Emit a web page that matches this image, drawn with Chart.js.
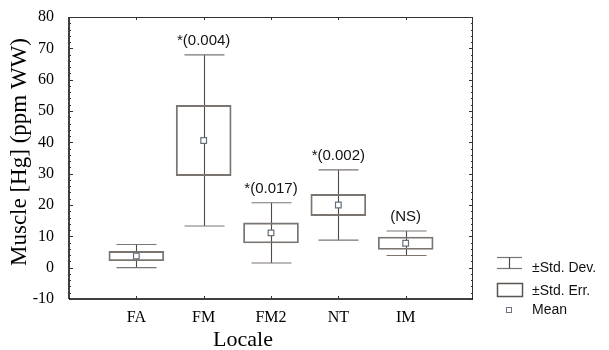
<!DOCTYPE html>
<html>
<head>
<meta charset="utf-8">
<script src="https://cdn.jsdelivr.net/npm/chart.js@4/dist/chart.umd.min.js"></script>
<style>
  html, body { margin: 0; padding: 0; background: #fff; }
</style>
</head>
<body>
<canvas id="chart" width="609" height="350"></canvas>
<script>
// data
const categories = ['FA', 'FM', 'FM2', 'NT', 'IM'];
const means = [3.7, 40.6, 11.1, 20.0, 7.8];
const stdErr = [1.5, 11.2, 3.2, 3.4, 2.0];
const stdDev = [3.7, 27.3, 9.6, 11.2, 3.9];
const notes = ['', '*(0.004)', '*(0.017)', '*(0.002)', '(NS)'];
const yTicks = [-10, 0, 10, 20, 30, 40, 50, 60, 70, 80];
const legendItems = ['±Std. Dev.', '±Std. Err.', 'Mean'];

const SERIF = '"Liberation Serif", "DejaVu Serif", serif';
const SANS = '"Liberation Sans", Arial, sans-serif';

function line(ctx, x1, y1, x2, y2) {
  ctx.beginPath(); ctx.moveTo(x1, y1); ctx.lineTo(x2, y2); ctx.stroke();
}

// whiskers, frame, inner ticks, notes, titles, legend
const decor = {
  id: 'decor',
  beforeDatasetsDraw(chart) {
    const { ctx, scales: { x, y } } = chart;
    ctx.save();
    means.forEach((m, i) => {
      const px = Math.round(x.getPixelForValue(i + 1)) + 0.5;
      const top = y.getPixelForValue(m + stdDev[i]);
      const bot = y.getPixelForValue(m - stdDev[i]);
      ctx.strokeStyle = '#4f4a46'; ctx.lineWidth = 1.1;
      line(ctx, px, top, px, bot);
      ctx.strokeStyle = '#7a7570';
      line(ctx, px - 20, top, px + 20, top);
      line(ctx, px - 20, bot, px + 20, bot);
    });
    ctx.restore();
  },
  afterDraw(chart) {
    const { ctx, scales: { x, y }, chartArea: a } = chart;
    ctx.save();
    // frame
    ctx.strokeStyle = '#333'; ctx.lineWidth = 1;
    line(ctx, a.left, a.top + 0.5, a.right, a.top + 0.5);
    line(ctx, a.right - 0.5, a.top, a.right - 0.5, a.bottom);
    ctx.strokeStyle = '#000'; ctx.lineWidth = 1.5;
    line(ctx, a.left, a.top, a.left, a.bottom);
    line(ctx, a.left, a.bottom, a.right, a.bottom);

    // inner ticks on y sides (minor every 2)
    ctx.lineWidth = 1; ctx.strokeStyle = '#333';
    for (let v = -10; v <= 80; v += 2) {
      const py = Math.round(y.getPixelForValue(v)) + 0.5;
      const len = v % 10 === 0 ? 4 : 2;
      line(ctx, a.left, py, a.left + len, py);
      line(ctx, a.right, py, a.right - len, py);
    }
    // inner ticks on x sides
    categories.forEach((c, i) => {
      const px = Math.round(x.getPixelForValue(i + 1)) + 0.5;
      line(ctx, px, a.top, px, a.top + 3);
      line(ctx, px, a.bottom, px, a.bottom - 3);
    });

    // significance notes
    ctx.fillStyle = '#111';
    ctx.font = '15px ' + SANS;
    ctx.textAlign = 'center'; ctx.textBaseline = 'middle';
    notes.forEach((n, i) => {
      if (!n) return;
      const px = x.getPixelForValue(i + 1);
      const py = y.getPixelForValue(means[i] + stdDev[i]) - 14;
      ctx.fillText(n, px, py);
    });

    // axis titles
    ctx.fillStyle = '#000';
    ctx.font = '22px ' + SERIF;
    ctx.fillText('Locale', 243, 340);
    ctx.save();
    ctx.translate(20, 152);
    ctx.rotate(-Math.PI / 2);
    ctx.font = '23px ' + SERIF;
    ctx.fillText('Muscle [Hg] (ppm WW)', 0, 0);
    ctx.restore();

    // legend
    const lx = 497, lw = 25, tx = 532;
    ctx.strokeStyle = '#7a7570'; ctx.lineWidth = 1.2;
    line(ctx, lx, 257.5, lx + lw, 257.5);
    line(ctx, lx, 268.5, lx + lw, 268.5);
    ctx.strokeStyle = '#4f4a46';
    line(ctx, lx + 12.5, 257.5, lx + 12.5, 268.5);
    ctx.strokeStyle = '#5a5550'; ctx.lineWidth = 1.5;
    ctx.strokeRect(lx + 0.5, 283.5, lw, 13);
    ctx.strokeStyle = '#6b7480'; ctx.lineWidth = 1;
    ctx.fillStyle = '#fff';
    ctx.fillRect(506.5, 307.5, 5, 5);
    ctx.strokeRect(506.5, 307.5, 5, 5);

    ctx.fillStyle = '#111';
    ctx.font = '14px ' + SANS;
    ctx.textAlign = 'left';
    [268, 291, 310].forEach((py, i) => ctx.fillText(legendItems[i], tx, py));
    ctx.restore();
  }
};

new Chart(document.getElementById('chart'), {
  data: {
    datasets: [
      {
        type: 'scatter',
        data: means.map((m, i) => ({ x: i + 1, y: m })),
        pointStyle: 'rect',
        pointRadius: 4,
        pointBackgroundColor: '#fff',
        pointBorderColor: '#66707c',
        pointBorderWidth: 1.2,
        order: 0
      },
      {
        type: 'bar',
        data: means.map((m, i) => ({ x: i + 1, y: [m - stdErr[i], m + stdErr[i]] })),
        backgroundColor: 'rgba(0,0,0,0)',
        borderColor: '#7a7570',
        borderWidth: 1.2,
        borderSkipped: false,
        barThickness: 55,
        order: 1
      }
    ]
  },
  options: {
    responsive: false,
    animation: false,
    layout: { padding: { top: 17, right: 136, left: 0, bottom: 0 } },
    plugins: { legend: { display: false }, tooltip: { enabled: false } },
    scales: {
      x: {
        type: 'linear',
        offset: false,
        min: 0, max: 6,
        grid: { display: false },
        border: { display: false },
        ticks: {
          stepSize: 1,
          autoSkip: false,
          maxRotation: 0,
          padding: 1,
          color: '#000',
          font: { family: SERIF, size: 16 },
          callback: v => categories[v - 1] || ''
        },
        afterFit: s => { s.height = 51; }
      },
      y: {
        min: -10, max: 80,
        grid: { display: false },
        border: { display: false },
        afterBuildTicks: s => { s.ticks = yTicks.map(v => ({ value: v })); },
        ticks: {
          padding: 7,
          color: '#000',
          font: { family: SERIF, size: 16 }
        },
        afterFit: s => { s.width = 69; }
      }
    }
  },
  plugins: [decor]
});
</script>
</body>
</html>
